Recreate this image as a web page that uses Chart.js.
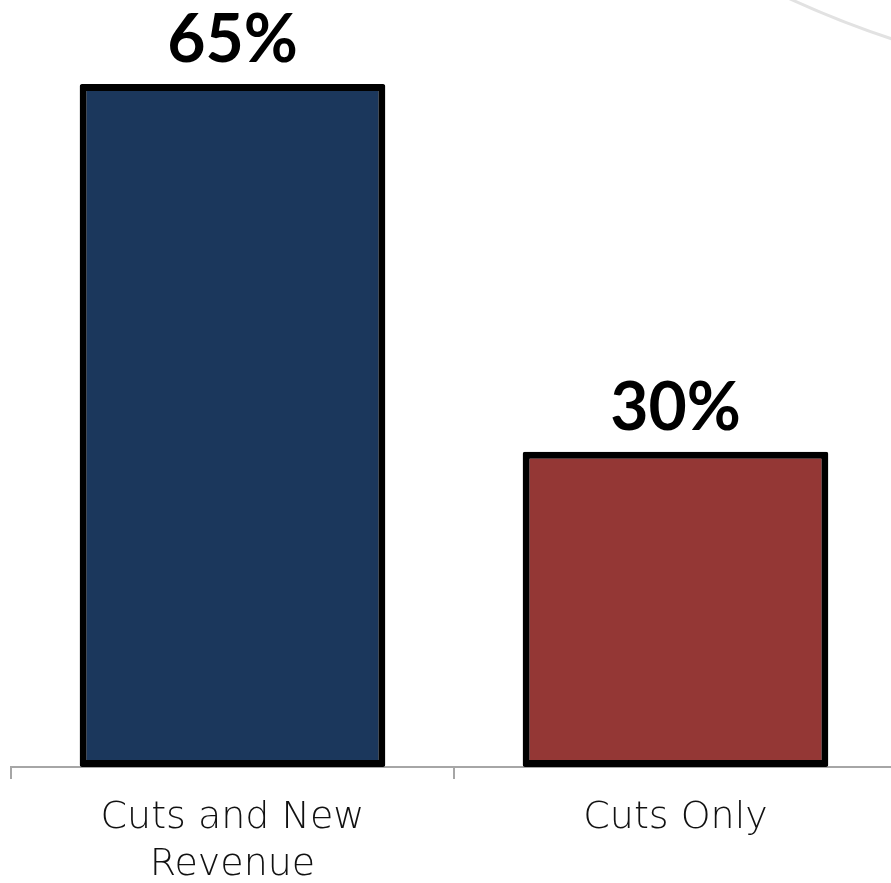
<!DOCTYPE html>
<html>
<head>
<meta charset="utf-8">
<script src="https://cdn.jsdelivr.net/npm/chart.js@4"></script>
<style>
    html, body { margin: 0; padding: 0; background: #fff; overflow: hidden; }
    #wrap { position: relative; width: 900px; height: 904px; }
</style>
</head>
<body>
<div id="wrap"><canvas id="chart"></canvas></div>
<script>
// Chart data
const categories = [['Cuts and New', 'Revenue'], 'Cuts Only'];
const values = [65, 30];
const barColors = ['#1b375c', '#943735'];

// Value labels above each bar
const valueLabels = {
    id: 'valueLabels',
    afterDatasetsDraw(chart) {
        const ctx = chart.ctx;
        const meta = chart.getDatasetMeta(0);
        ctx.save();
        ctx.fillStyle = '#000';
        ctx.font = 'bold 66px Lato';
        ctx.textAlign = 'center';
        ctx.textBaseline = 'alphabetic';
        meta.data.forEach((bar, i) => {
            ctx.fillText(values[i] + '%', bar.x, bar.y - 22);
        });
        ctx.restore();
    }
};

// Faint grey arc in the top right corner
const cornerArc = {
    id: 'cornerArc',
    beforeDraw(chart) {
        const ctx = chart.ctx;
        ctx.save();
        ctx.strokeStyle = '#e2e2e2';
        ctx.lineWidth = 3;
        ctx.beginPath();
        ctx.moveTo(788, -2);
        ctx.quadraticCurveTo(840, 22, 895, 40);
        ctx.stroke();
        ctx.restore();
    }
};

new Chart(document.getElementById('chart'), {
    type: 'bar',
    data: {
        labels: categories,
        datasets: [{
            data: values,
            backgroundColor: barColors,
            borderColor: '#000',
            borderWidth: 7,
            borderSkipped: false,
            borderRadius: 2,
            categoryPercentage: 1,
            barPercentage: 0.69
        }]
    },
    options: {
        responsive: true,
        maintainAspectRatio: false,
        animation: false,
        layout: { padding: { left: 11, right: 3, top: 0, bottom: 0 } },
        plugins: {
            legend: { display: false },
            tooltip: { enabled: false }
        },
        scales: {
            y: {
                display: false,
                min: 0,
                max: 73
            },
            x: {
                border: { display: true, color: '#a6a6a6', width: 2 },
                grid: {
                    display: true,
                    drawOnChartArea: false,
                    drawTicks: true,
                    tickLength: 12,
                    color: '#a6a6a6',
                    lineWidth: 2
                },
                ticks: {
                    color: '#111',
                    padding: 15,
                    maxRotation: 0,
                    font: { family: 'DejaVu Sans', size: 38, weight: 200, lineHeight: 1.25 }
                }
            }
        }
    },
    plugins: [valueLabels, cornerArc]
});
</script>
</body>
</html>
